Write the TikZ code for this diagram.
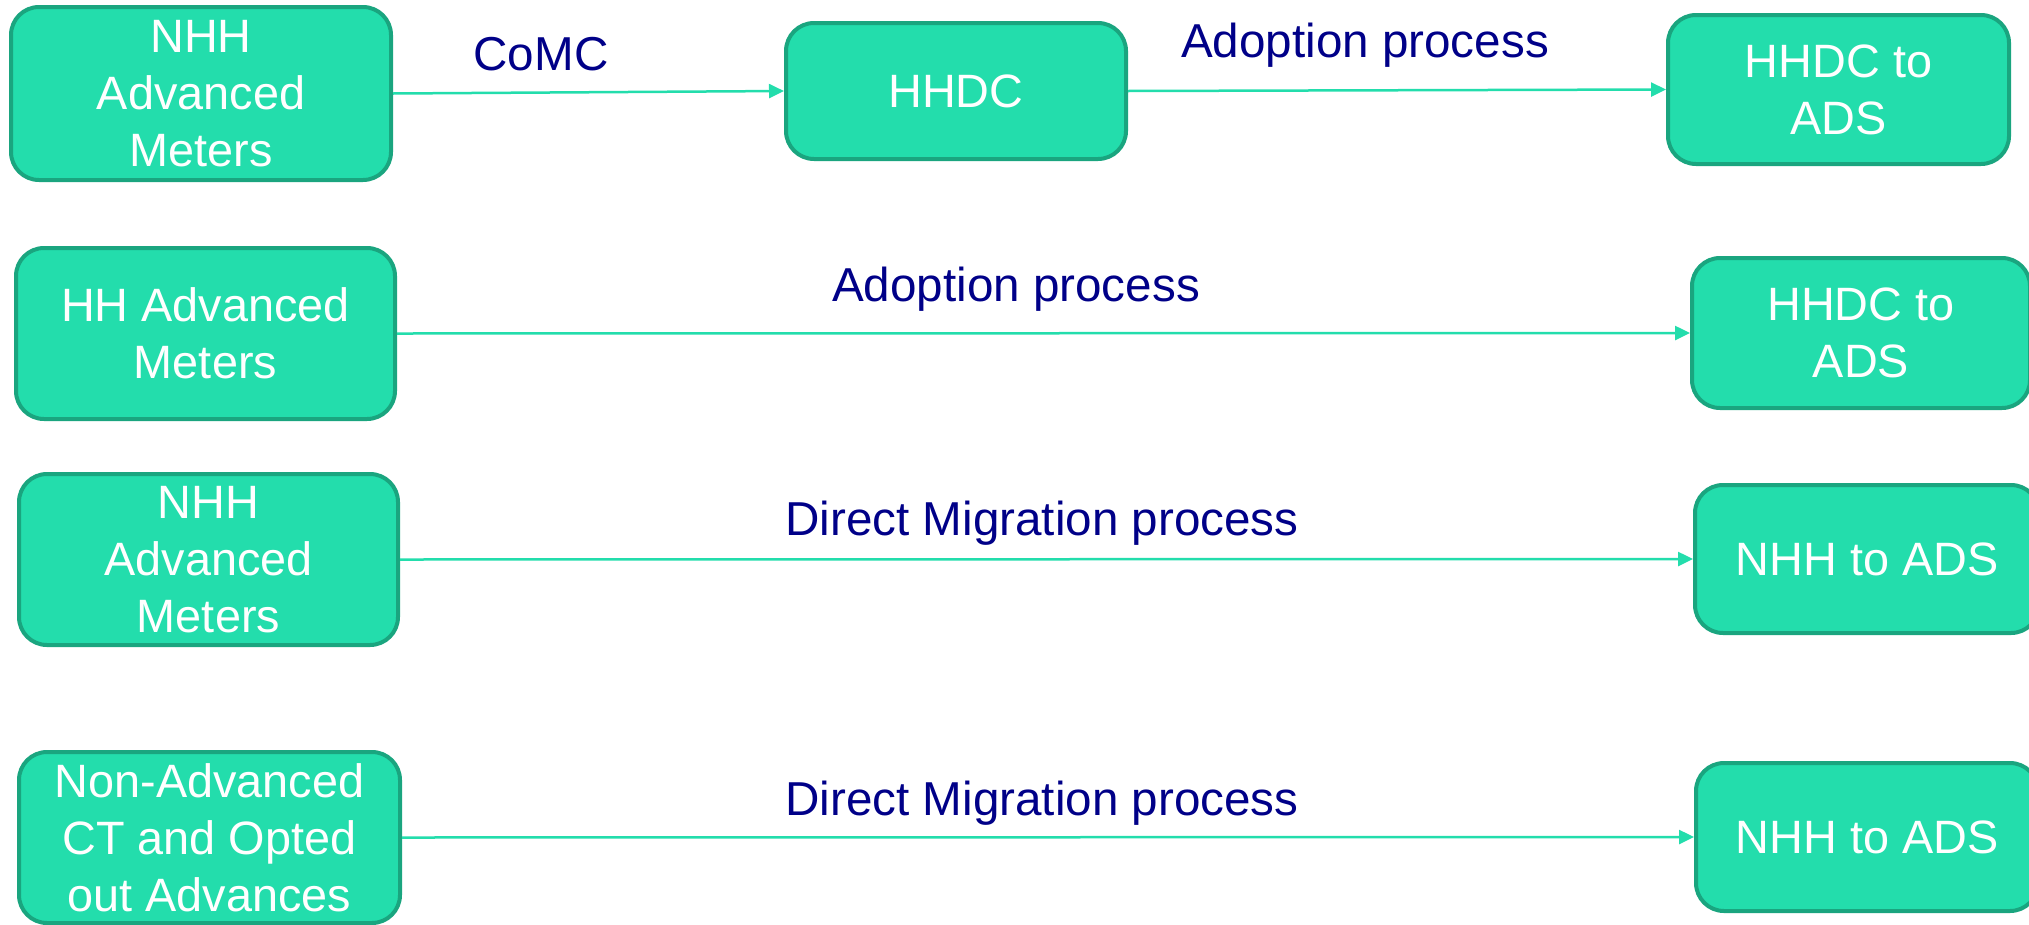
\documentclass[tikz,border=0pt]{standalone}
\usepackage{fontspec}
\setmainfont{Liberation Sans}
\usetikzlibrary{arrows.meta}
\definecolor{boxfill}{RGB}{35,221,172}
\definecolor{boxline}{RGB}{26,165,127}
\definecolor{arrowcol}{RGB}{35,221,172}
\definecolor{labcol}{RGB}{0,0,136}
\tikzset{
  flowbox/.style={draw=boxline, line width=4pt, fill=boxfill, rounded corners=28pt,
    text=white, align=center, inner sep=0pt,
    font=\fontsize{46.8}{57}\selectfont},
  flowarrow/.style={draw=arrowcol, line width=2.5pt, -{Triangle[length=15pt,width=14pt]}},
  flowlabel/.style={text=labcol, anchor=base, inner sep=0pt,
    font=\fontsize{47.6}{55}\selectfont}
}
\begin{document}
\begin{tikzpicture}[x=1pt,y=-1pt]
\useasboundingbox (0,0) rectangle (2029,924);
% row 1
\node[flowbox, minimum width=380pt, minimum height=173pt] (b1) at (201,93.5) {NHH\\Advanced\\Meters};
\node[flowbox, minimum width=340pt, minimum height=136pt] (hhdc) at (956,91) {HHDC};
\node[flowbox, minimum width=341pt, minimum height=149pt] (r1) at (1838.5,89.5) {HHDC to\\ADS};
% row 2
\node[flowbox, minimum width=379pt, minimum height=171pt] (b2) at (205.5,333.5) {HH Advanced\\Meters};
\node[flowbox, minimum width=338pt, minimum height=150pt] (r2) at (1861,333) {HHDC to\\ADS};
% row 3
\node[flowbox, minimum width=379pt, minimum height=171pt] (b3) at (208.5,559.5) {NHH\\Advanced\\Meters};
\node[flowbox, minimum width=344pt, minimum height=148pt] (r3) at (1867,559) {NHH to ADS};
% row 4
\node[flowbox, minimum width=381pt, minimum height=171pt] (b4) at (209.5,837.5) {Non-Advanced\\CT and Opted\\out Advances};
\node[flowbox, minimum width=342pt, minimum height=148pt] (r4) at (1867,837) {NHH to ADS};
% arrows
\draw[flowarrow] (b1.east) -- (hhdc.west);
\draw[flowarrow] (hhdc.east) -- (r1.west);
\draw[flowarrow] (b2.east) -- (r2.west);
\draw[flowarrow] (b3.east) -- (r3.west);
\draw[flowarrow] (b4.east) -- (r4.west);
% labels
\node[flowlabel] (l1) at (541,70) {CoMC};
\node[flowlabel] (l2) at (1365,57) {Adoption process};
\node[flowlabel] (l3) at (1016,301) {Adoption process};
\node[flowlabel] (l4) at (1042,535) {Direct Migration process};
\node[flowlabel] (l5) at (1042,815) {Direct Migration process};
\end{tikzpicture}
\end{document}
